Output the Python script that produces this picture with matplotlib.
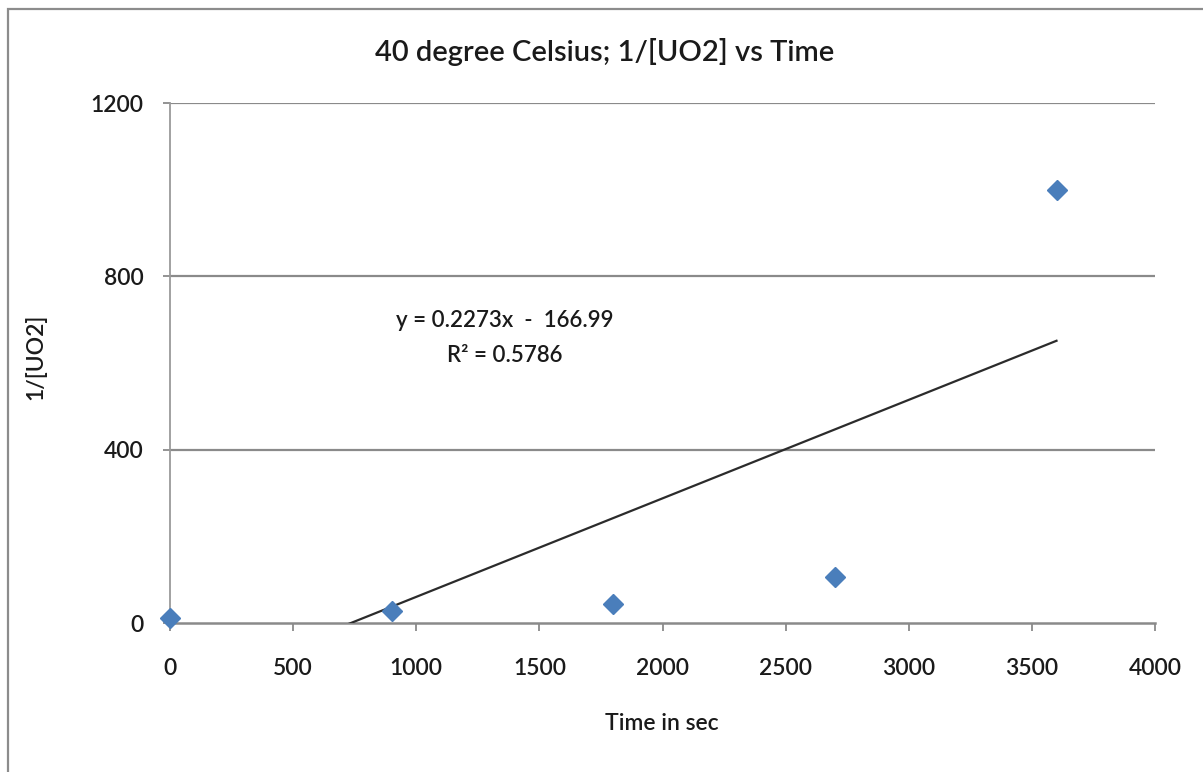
import matplotlib
matplotlib.use("Agg")
import matplotlib.pyplot as plt
from matplotlib.patches import Rectangle

# Measured 1/[UO2] at each sampling time (40 °C run)
time_s = [0, 900, 1800, 2700, 3600]
inv_uo2 = [12, 28, 44, 107, 1000]

# Linear trendline reported for the series
slope = 0.2273
intercept = -166.99
r_squared = 0.5786

x_ticks = [0, 500, 1000, 1500, 2000, 2500, 3000, 3500, 4000]
y_ticks = [0, 400, 800, 1200]

title = "40 degree Celsius; 1/[UO2] vs Time"
x_label = "Time in sec"
y_label = "1/[UO2]"

plt.rcParams["font.family"] = ["Lato", "DejaVu Sans"]
TXT = "#1a1a1a"
WEIGHT = "semibold"

W, H = 1203, 772
fig = plt.figure(figsize=(W / 100, H / 100), dpi=100)
fig.patch.set_facecolor("white")

# outer chart frame (left and top edges visible)
fig.add_artist(Rectangle((8 / W, -0.2), 1.5, 1.2 - 9 / H,
                         transform=fig.transFigure, fill=False,
                         edgecolor="#8c8c8c", linewidth=1.6))

ax = fig.add_axes([170 / W, 1 - 623 / H, (1155 - 170) / W, (623 - 103) / H])
ax.set_xlim(0, 4000)
ax.set_ylim(0, 1200)

grid_col = "#8a8a8a"
for yv in y_ticks[1:]:
    ax.axhline(yv, color=grid_col, linewidth=1.6, zorder=1)

for side in ("top", "right"):
    ax.spines[side].set_visible(False)
ax.spines["left"].set_color("#9a9a9a")
ax.spines["left"].set_linewidth(1.3)
ax.spines["bottom"].set_color(grid_col)
ax.spines["bottom"].set_linewidth(1.8)

ax.set_xticks(x_ticks)
ax.set_yticks(y_ticks)
ax.set_xticklabels([str(v) for v in x_ticks], fontweight=WEIGHT)
ax.set_yticklabels([str(v) for v in y_ticks], fontweight=WEIGHT)
ax.tick_params(axis="x", direction="out", length=6, width=1.3, color=grid_col,
               pad=19, labelsize=16.5, labelcolor=TXT)
ax.tick_params(axis="y", direction="out", length=5, width=1.3, color=grid_col,
               pad=14, labelsize=16.5, labelcolor=TXT)

# trendline from the reported fit, clipped to the plot area
x_fit = [min(time_s), max(time_s)]
y_fit = [slope * x + intercept for x in x_fit]
ax.plot(x_fit, y_fit, color="#2b2b2b", linewidth=1.6, zorder=3)

ax.plot(time_s, inv_uo2, linestyle="none", marker="D", markersize=10,
        color="#4a7ebb", markeredgecolor="#4a7ebb", zorder=4, clip_on=False)

ax.text(1360, 697, f"y = {slope}x  -  {abs(intercept)}",
        ha="center", va="center", fontsize=16, color=TXT, fontweight=WEIGHT)
ax.text(1360, 618, f"R² = {r_squared}",
        ha="center", va="center", fontsize=16, color=TXT, fontweight=WEIGHT)

fig.text(605 / W, 1 - 52 / H, title, ha="center", va="center",
         fontsize=21, color=TXT, fontweight=WEIGHT)
fig.text(662 / W, 1 - 723 / H, x_label, ha="center", va="center",
         fontsize=16.5, color=TXT, fontweight=WEIGHT)
fig.text(35 / W, 1 - 357 / H, y_label, ha="center", va="center",
         rotation=90, fontsize=16.5, color=TXT, fontweight=WEIGHT)

fig.savefig("out.png", dpi=100, facecolor="white")
